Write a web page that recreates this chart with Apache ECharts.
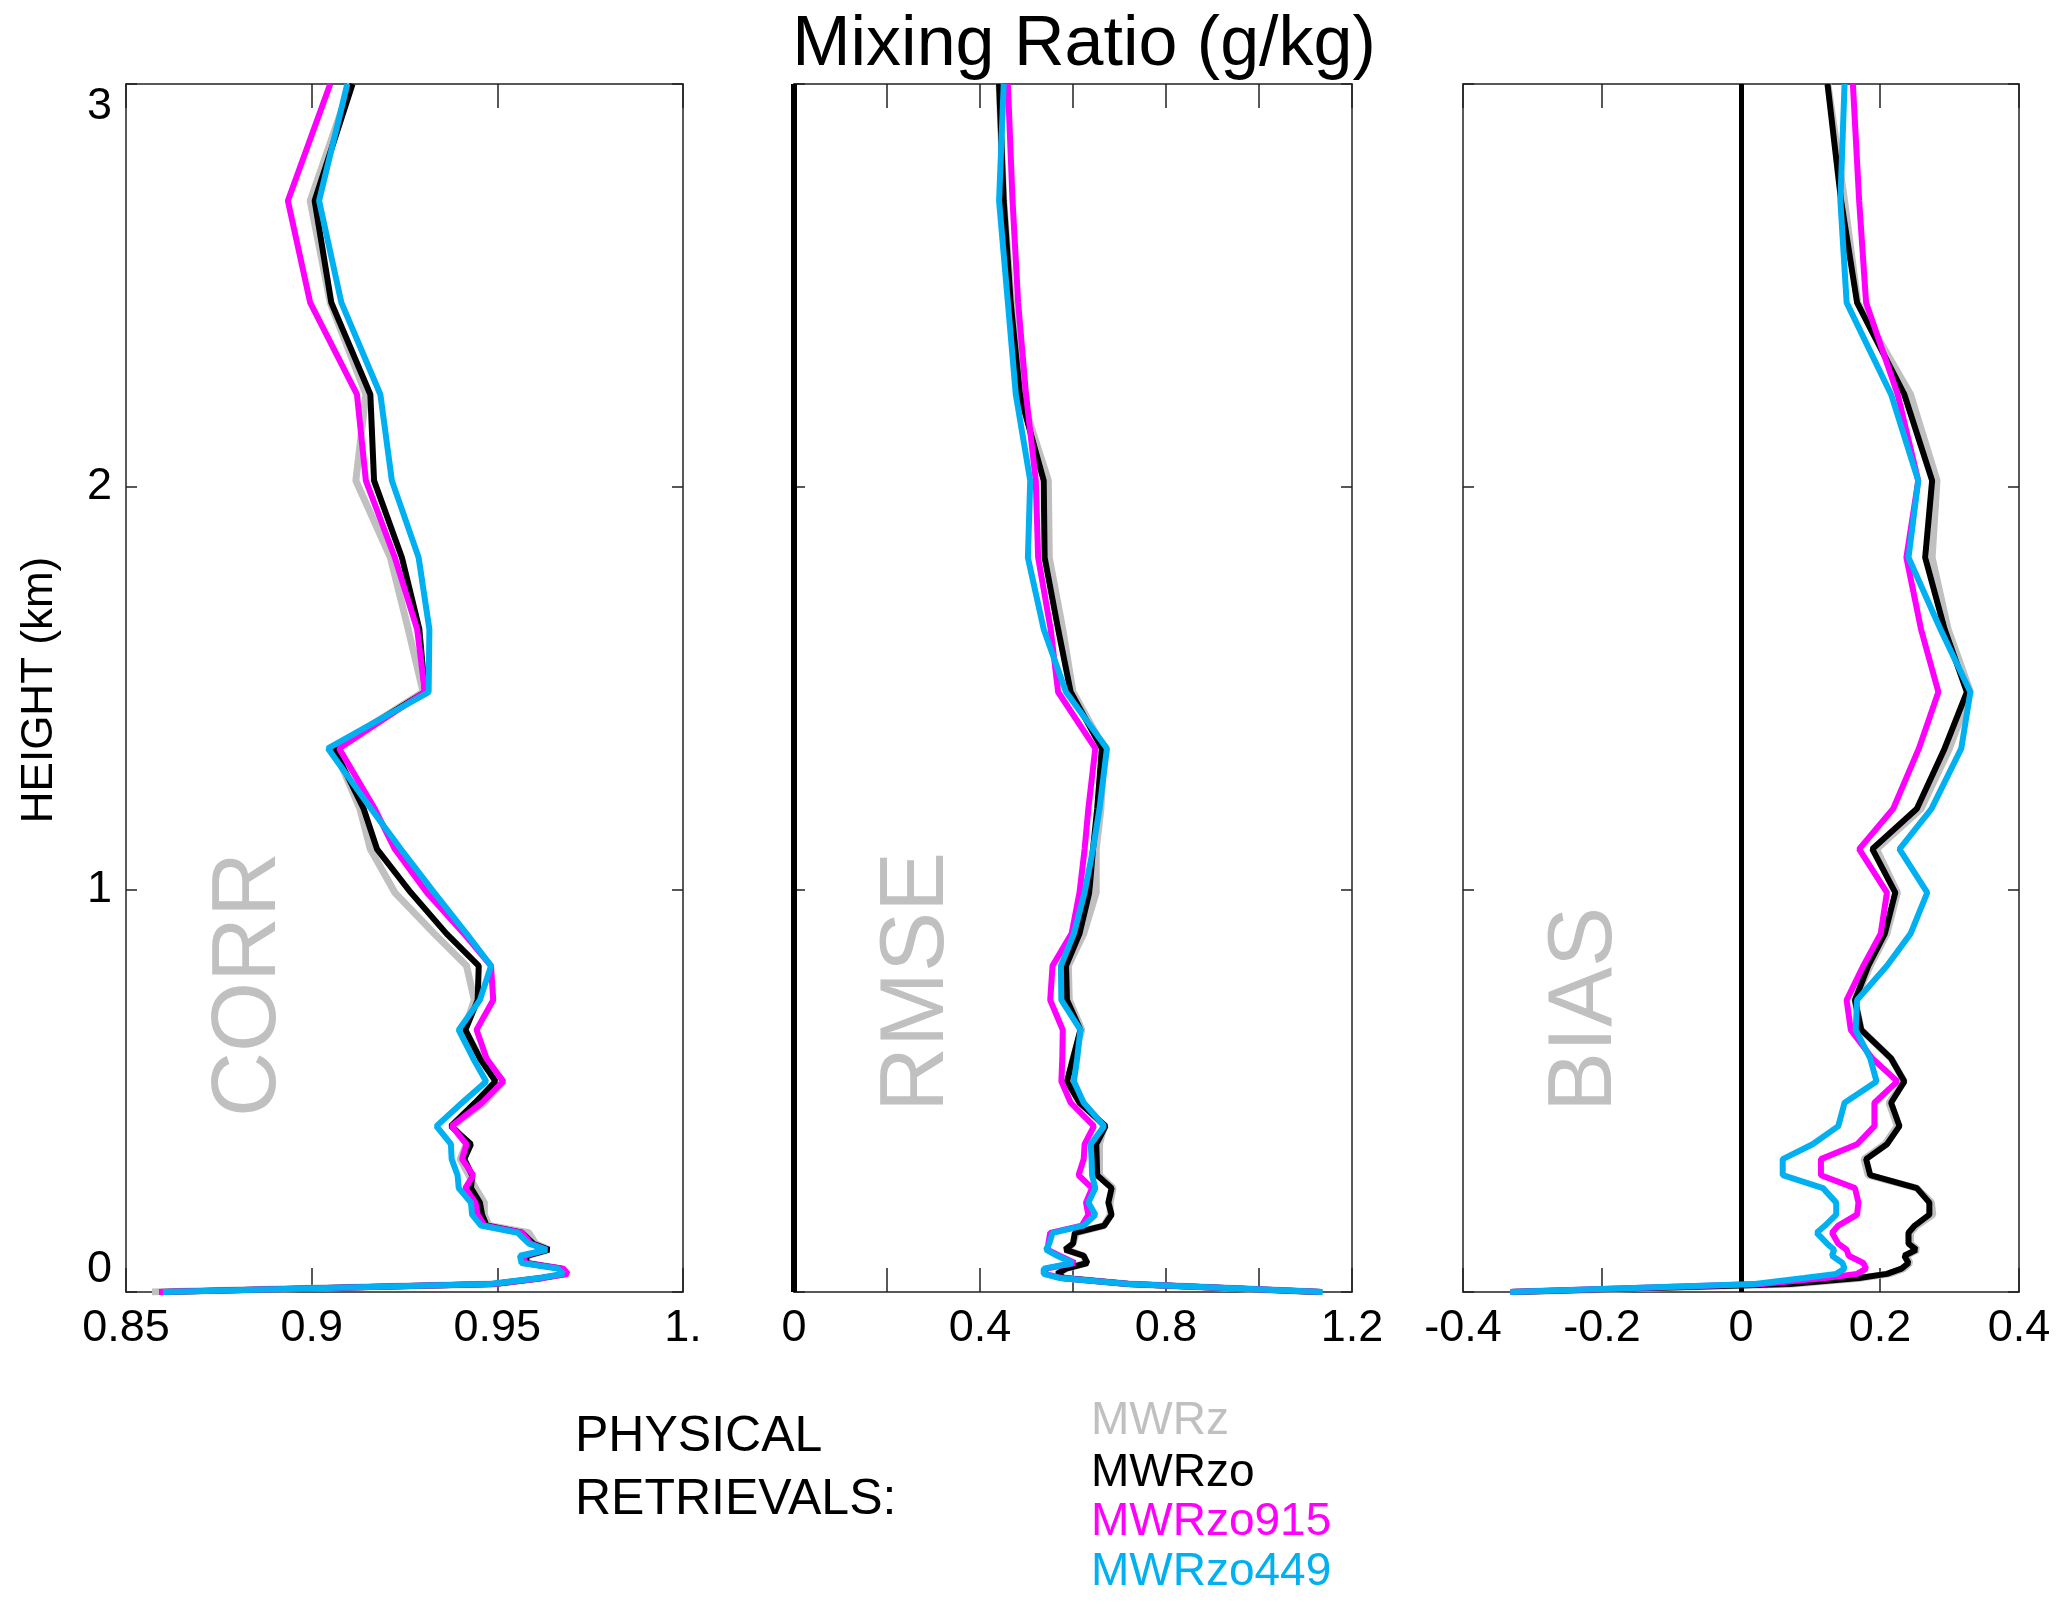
<!DOCTYPE html>
<html><head><meta charset="utf-8">
<script src="https://cdn.jsdelivr.net/npm/echarts@6/dist/echarts.min.js"></script>
<style>html,body{margin:0;padding:0;background:#fff}#c{width:2067px;height:1606px}</style>
</head><body><div id="c"></div>
<script>
// Heights (km) of the profile levels
const heights = [0, 0.02, 0.035, 0.045, 0.058, 0.072, 0.09, 0.105, 0.12, 0.147, 0.165, 0.192, 0.222, 0.258, 0.29, 0.33, 0.367, 0.412, 0.47, 0.523, 0.58, 0.651, 0.725, 0.81, 0.89, 0.992, 1.1, 1.2, 1.35, 1.49, 1.646, 1.824, 2.015, 2.229, 2.457, 2.71, 3.0];

const seriesNames = ['MWRz', 'MWRzo', 'MWRzo915', 'MWRzo449'];
const seriesColors = ['#c0c0c0', '#000000', '#ff00ff', '#00b0f0'];

// CORR
const corrMWRz     = [0.857,0.949,0.962,0.9685,0.9672,0.958,0.958,0.9639,0.9603,0.9585,0.9477,0.9465,0.9465,0.9441,0.9423,0.94,0.9417,0.938,0.9465,0.9516,0.9456,0.9411,0.9438,0.9417,0.933,0.9224,0.9158,0.913,0.906,0.930,0.926,0.9212,0.9119,0.9146,0.905,0.8996,0.9105];
const corrMWRzo    = [0.859,0.949,0.962,0.9685,0.9672,0.9577,0.9579,0.9639,0.9597,0.9567,0.9471,0.9459,0.9453,0.9429,0.9432,0.9411,0.9429,0.9375,0.944,0.9495,0.9453,0.9414,0.9447,0.945,0.9363,0.9267,0.9176,0.914,0.906,0.9305,0.929,0.9243,0.9168,0.9158,0.9053,0.9008,0.911];
const corrMWRzo915 = [0.859,0.949,0.9625,0.969,0.9678,0.9573,0.9573,0.9633,0.959,0.9567,0.9465,0.9447,0.9441,0.9414,0.9435,0.9405,0.9417,0.9377,0.9459,0.9516,0.9471,0.9444,0.9489,0.9483,0.941,0.931,0.9224,0.917,0.9074,0.9305,0.9284,0.9224,0.9146,0.9122,0.8996,0.8936,0.905];
const corrMWRzo449 = [0.860,0.948,0.9615,0.9678,0.9663,0.9565,0.9561,0.9633,0.9585,0.9555,0.9456,0.9432,0.9429,0.9396,0.9393,0.9377,0.9375,0.9336,0.9405,0.947,0.9435,0.9396,0.9453,0.9483,0.9417,0.933,0.924,0.916,0.9044,0.9315,0.9317,0.9288,0.9216,0.9185,0.908,0.902,0.9096];

// RMSE
const rmseMWRz     = [1.13,0.72,0.58,0.566,0.585,0.628,0.623,0.585,0.600,0.607,0.667,0.680,0.680,0.686,0.657,0.657,0.657,0.667,0.619,0.590,0.600,0.619,0.592,0.590,0.623,0.650,0.650,0.660,0.667,0.600,0.578,0.549,0.547,0.488,0.468,0.451,0.441];
const rmseMWRzo    = [1.13,0.72,0.58,0.566,0.585,0.631,0.623,0.583,0.600,0.604,0.667,0.683,0.676,0.683,0.652,0.651,0.650,0.670,0.614,0.587,0.600,0.616,0.587,0.585,0.614,0.635,0.643,0.652,0.662,0.595,0.568,0.539,0.537,0.486,0.466,0.451,0.441];
const rmseMWRzo915 = [1.135,0.72,0.575,0.539,0.542,0.604,0.571,0.545,0.547,0.551,0.619,0.633,0.628,0.641,0.612,0.623,0.625,0.645,0.595,0.575,0.577,0.578,0.551,0.556,0.597,0.614,0.625,0.633,0.648,0.568,0.552,0.525,0.520,0.499,0.482,0.470,0.460];
const rmseMWRzo449 = [1.137,0.72,0.57,0.537,0.537,0.600,0.566,0.542,0.549,0.556,0.623,0.648,0.633,0.648,0.641,0.640,0.638,0.667,0.623,0.602,0.609,0.616,0.575,0.574,0.602,0.625,0.643,0.657,0.673,0.585,0.537,0.503,0.508,0.477,0.460,0.441,0.451];

// BIAS
const biasMWRz     = [-0.33,0.075,0.175,0.213,0.234,0.243,0.238,0.254,0.244,0.244,0.253,0.276,0.274,0.253,0.183,0.177,0.207,0.225,0.213,0.235,0.216,0.173,0.164,0.186,0.210,0.225,0.195,0.259,0.300,0.330,0.298,0.275,0.282,0.244,0.168,0.149,0.125];
const biasMWRzo    = [-0.33,0.07,0.170,0.210,0.231,0.241,0.235,0.252,0.241,0.241,0.250,0.271,0.271,0.253,0.186,0.180,0.210,0.228,0.216,0.235,0.216,0.173,0.164,0.183,0.207,0.222,0.189,0.253,0.293,0.325,0.293,0.265,0.275,0.235,0.167,0.144,0.1245];
const biasMWRzo915 = [-0.332,0.03,0.121,0.167,0.180,0.176,0.155,0.152,0.140,0.131,0.140,0.167,0.169,0.164,0.115,0.115,0.167,0.192,0.192,0.225,0.189,0.158,0.152,0.176,0.201,0.210,0.170,0.219,0.256,0.284,0.259,0.238,0.255,0.2255,0.180,0.170,0.161];
const biasMWRzo449 = [-0.332,0.02,0.091,0.137,0.149,0.146,0.131,0.134,0.124,0.109,0.121,0.137,0.137,0.118,0.060,0.060,0.103,0.140,0.149,0.195,0.186,0.165,0.167,0.210,0.244,0.268,0.228,0.274,0.317,0.330,0.287,0.241,0.255,0.216,0.152,0.143,0.149];

// axis ranges
const corrRange = [0.85, 1.0, 0.05];
const rmseRange = [0, 1.2, 0.2];
const biasRange = [-0.4, 0.4, 0.2];
const heightRange = [0, 3, 1];

const panelLabels = ['CORR', 'RMSE', 'BIAS'];
const titleText = 'Mixing Ratio (g/kg)';
const yAxisName = 'HEIGHT (km)';
const legendHead = ['PHYSICAL', 'RETRIEVALS:'];

const FONT = '"Liberation Sans", Arial, Helvetica, sans-serif';

const panels = [
  {range: corrRange, data: [corrMWRz, corrMWRzo, corrMWRzo915, corrMWRzo449],
   fmt: v => Math.abs(v - 1) < 1e-9 ? '1.' : String(+v.toFixed(2)), zero: false},
  {range: rmseRange, data: [rmseMWRz, rmseMWRzo, rmseMWRzo915, rmseMWRzo449],
   fmt: v => (Math.round(v * 10) % 4 === 0 ? String(+v.toFixed(1)) : ''), zero: true, zeroW: 6},
  {range: biasRange, data: [biasMWRz, biasMWRzo, biasMWRzo915, biasMWRzo449],
   fmt: v => String(+v.toFixed(1)), zero: true, zeroW: 5}
];

const gridBoxes = [
  {left: 126, top: 84, width: 557, height: 1208},
  {left: 794, top: 84, width: 558, height: 1208},
  {left: 1463, top: 84, width: 556, height: 1208}
];

const axisLineStyle = {show: true, onZero: false, lineStyle: {color: '#222', width: 1.5}};
const grid = [], xAxis = [], yAxis = [], series = [];

panels.forEach((p, i) => {
  grid.push(Object.assign({containLabel: false}, gridBoxes[i]));
  const [mn, mx, iv] = p.range;
  const baseX = {type: 'value', gridIndex: i, min: mn, max: mx, interval: iv,
    splitLine: {show: false}, axisLine: axisLineStyle};
  xAxis.push(Object.assign({}, baseX, {position: 'bottom',
    axisTick: {show: true, inside: true, length: 24, lineStyle: {color: '#222', width: 1.5}},
    axisLabel: {show: true, formatter: p.fmt, fontFamily: FONT, fontSize: 45, color: '#000', margin: 14}}));
  xAxis.push(Object.assign({}, baseX, {position: 'top',
    axisTick: {show: true, inside: true, length: 24, lineStyle: {color: '#222', width: 1.5}},
    axisLabel: {show: false}}));
  const baseY = {type: 'value', gridIndex: i, min: heightRange[0], max: heightRange[1], interval: heightRange[2],
    splitLine: {show: false}, axisLine: axisLineStyle,
    axisTick: {show: true, inside: true, length: 11, lineStyle: {color: '#222', width: 1.5}}};
  yAxis.push(Object.assign({}, baseY, {position: 'left',
    axisLabel: {show: i === 0, fontFamily: FONT, fontSize: 45, color: '#000', margin: 14,
      verticalAlignMinLabel: 'bottom', verticalAlignMaxLabel: 'top'}}));
  yAxis.push(Object.assign({}, baseY, {position: 'right', axisLabel: {show: false}}));

  p.data.forEach((vals, s) => {
    const ser = {
      type: 'line', name: seriesNames[s], xAxisIndex: 2 * i, yAxisIndex: 2 * i,
      data: heights.map((h, k) => [vals[k], h]),
      showSymbol: false, symbol: 'none', silent: true, animation: false,
      lineStyle: {color: seriesColors[s], width: s === 0 ? 7 : 6},
      itemStyle: {color: seriesColors[s]},
      z: 2 + s, clip: true
    };
    if (s === 0 && p.zero) {
      ser.markLine = {silent: true, symbol: 'none', animation: false, label: {show: false},
        lineStyle: {color: '#000', width: p.zeroW, type: 'solid'}, data: [{xAxis: 0}]};
    }
    series.push(ser);
  });
});

const graphic = [
  {type: 'text', x: 1084, y: 46, style: {text: titleText, font: '70px ' + FONT, fill: '#000', align: 'center', verticalAlign: 'middle'}},
  {type: 'text', x: 40, y: 690, rotation: Math.PI / 2, style: {text: yAxisName, font: '44px ' + FONT, fill: '#000', align: 'center', verticalAlign: 'middle'}},
  {type: 'text', x: 250, y: 1117, rotation: Math.PI / 2, style: {text: panelLabels[0], font: '90px ' + FONT, fill: '#c0c0c0', align: 'left', verticalAlign: 'middle'}},
  {type: 'text', x: 918, y: 1112, rotation: Math.PI / 2, style: {text: panelLabels[1], font: '90px ' + FONT, fill: '#c0c0c0', align: 'left', verticalAlign: 'middle'}},
  {type: 'text', x: 1586, y: 1112, rotation: Math.PI / 2, style: {text: panelLabels[2], font: '90px ' + FONT, fill: '#c0c0c0', align: 'left', verticalAlign: 'middle'}},
  {type: 'text', x: 575, y: 1437, style: {text: legendHead[0], font: '50px ' + FONT, fill: '#000', align: 'left', verticalAlign: 'middle'}},
  {type: 'text', x: 575, y: 1500, style: {text: legendHead[1], font: '50px ' + FONT, fill: '#000', align: 'left', verticalAlign: 'middle'}}
];
const legendY = [1421, 1473, 1522, 1572];
seriesNames.forEach((n, s) => {
  graphic.push({type: 'text', x: 1091, y: legendY[s], style: {text: n, font: '46px ' + FONT, fill: seriesColors[s], align: 'left', verticalAlign: 'middle'}});
});

const chart = echarts.init(document.getElementById('c'), null, {renderer: 'canvas'});
chart.setOption({animation: false, backgroundColor: '#fff', grid, xAxis, yAxis, series, graphic});
</script>
</body></html>
